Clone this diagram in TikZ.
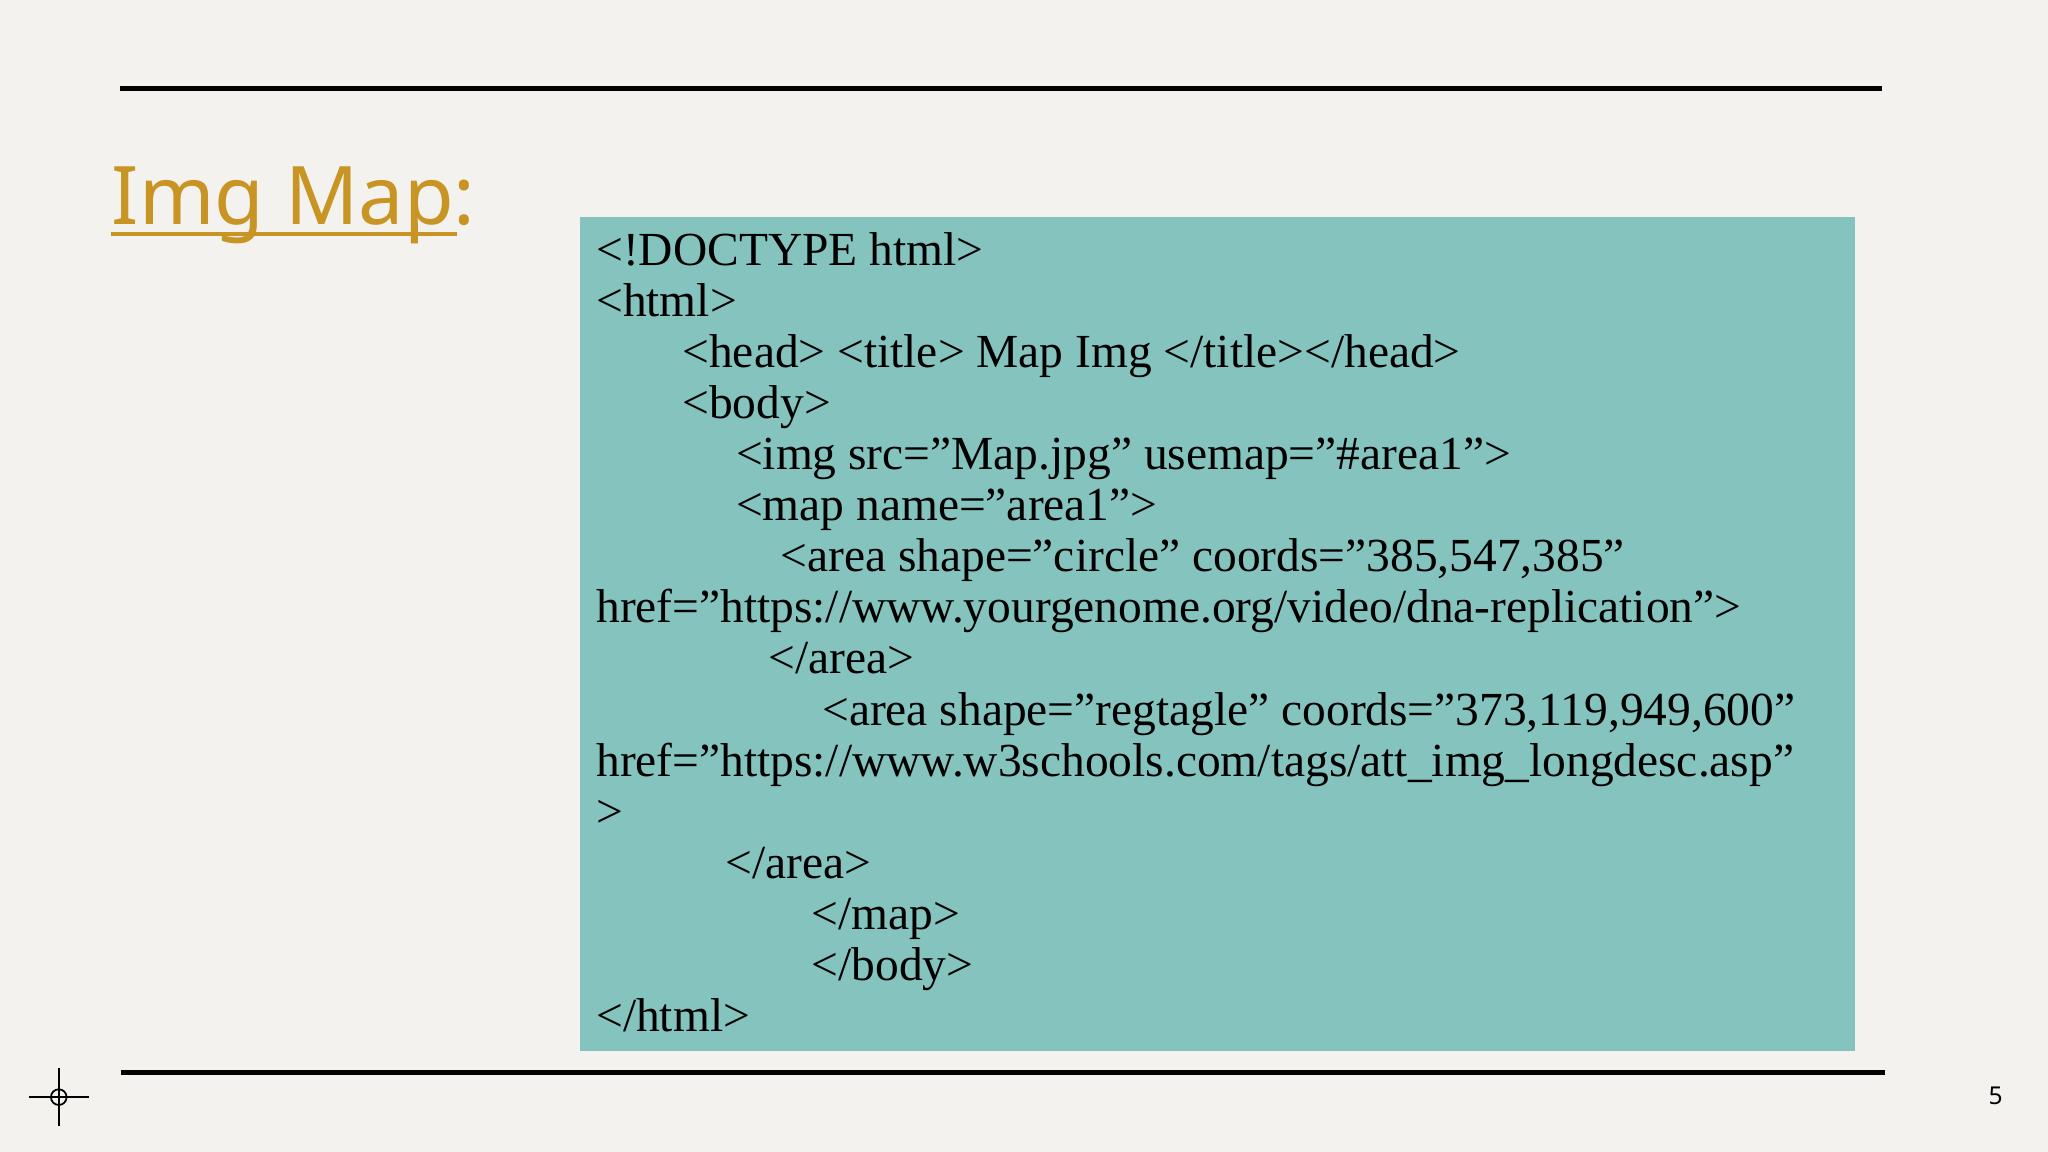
\documentclass[tikz,border=0pt]{standalone}
\usepackage{fontspec}
\setmainfont{Liberation Serif}
\newfontfamily\titlefont{Noto Sans}
\definecolor{bgc}{RGB}{243,242,238}
\definecolor{teal}{RGB}{133,195,190}
\definecolor{gold}{RGB}{200,148,36}
\tikzset{codeline/.style={anchor=base west,inner sep=0pt,font=\fontsize{13.5}{14}\selectfont}}
\begin{document}
\begin{tikzpicture}[x=0.013061cm,y=-0.013061cm]
\useasboundingbox[fill=bgc] (0,0) rectangle (1568,882);
\draw[line width=1.5pt] (92,68) -- (1441,68);
\draw[line width=1.5pt] (93,821) -- (1443,821);
\node[anchor=base west,inner sep=0pt,text=gold,font=\titlefont\fontsize{23}{26}\selectfont] (title) at (85,172) {Img Map:};
\draw[gold,line width=1pt] (85,179) -- (350,179);
\fill[teal] (444,166) rectangle (1420,805);
\foreach \x/\t [count=\i from 0] in {
456/{<!DOCTYPE html>},
456/{<html>},
522/{<head> <title> Map Img </title></head>},
522/{<body>},
563/{<img src="Map.jpg" usemap="\#area1">},
563/{<map name="area1">},
597/{<area shape="circle" coords="385,547,385"},
456/{href="https://www.yourgenome.org/video/dna-replication">},
588/{</area>},
629/{<area shape="regtagle" coords="373,119,949,600"},
456/{href="https://www.w3schools.com/tags/att\_img\_longdesc.asp"},
456/{>},
555/{</area>},
621/{</map>},
621/{</body>},
456/{</html>}}
  \node[codeline] (l\i) at (\x,{203+39.12*\i}) {\t};
\node[anchor=base,inner sep=0pt,font=\titlefont\fontsize{7}{8}\selectfont] (pg) at (1528,846) {5};
\draw[line width=0.5pt] (22,840) -- (68,840) (45,818) -- (45,862);
\draw[line width=0.5pt] (45,840) circle (6);
\end{tikzpicture}
\end{document}
